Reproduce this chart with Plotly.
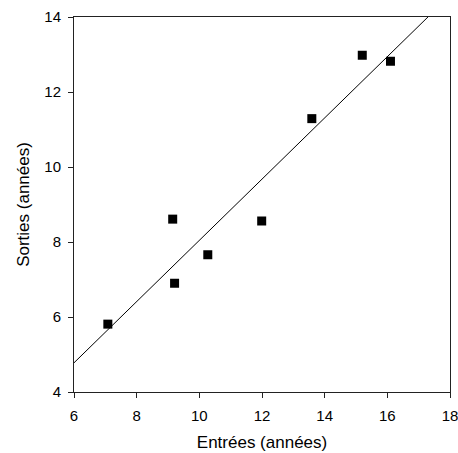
import numpy as np
import plotly.graph_objects as go

entrees = [7.08, 9.21, 10.27, 9.15, 11.99, 13.59, 15.20, 16.10]
sorties = [5.81, 6.90, 7.66, 8.61, 8.56, 11.29, 12.98, 12.82]
x_ticks = [6, 8, 10, 12, 14, 16, 18]
y_ticks = [4, 6, 8, 10, 12, 14]

slope, intercept = np.polyfit(entrees, sorties, 1)
line_x = [x_ticks[0], x_ticks[-1]]
line_y = [slope * v + intercept for v in line_x]

fig = go.Figure()
fig.add_trace(go.Scatter(x=line_x, y=line_y, mode="lines",
                         line=dict(color="black", width=1), showlegend=False,
                         hoverinfo="skip"))
fig.add_trace(go.Scatter(x=entrees, y=sorties, mode="markers",
                         marker=dict(symbol="square", size=9, color="black"),
                         showlegend=False, cliponaxis=False))

font = "Arial, 'Liberation Sans', sans-serif"
fig.update_layout(
    width=458, height=453,
    margin=dict(l=73.5, r=8.3, t=16.5, b=60.7),
    plot_bgcolor="white", paper_bgcolor="white",
    font=dict(family=font, color="black", size=15),
)
axis_common = dict(
    showgrid=False, zeroline=False, showline=True, linecolor="#222",
    linewidth=1, mirror=True, ticks="outside", ticklen=5, tickwidth=1,
    tickcolor="#222", tickfont=dict(size=15, family=font),
    ticklabeloverflow="allow", automargin=False,
)
fig.update_xaxes(range=[6, 18], tickvals=x_ticks, ticklabelstandoff=5,
                 title=dict(text="Entrées (années)", font=dict(size=17), standoff=13),
                 **axis_common)
fig.update_yaxes(range=[4, 14], tickvals=y_ticks, ticklabelstandoff=4,
                 title=dict(text="Sorties (années)", font=dict(size=17), standoff=10),
                 **axis_common)
fig.write_html("out.html")
